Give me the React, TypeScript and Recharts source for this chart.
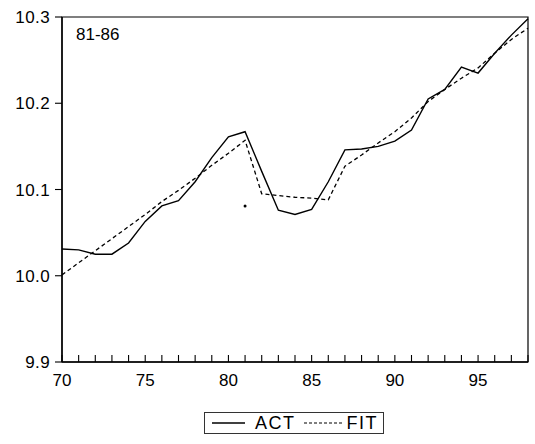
import React from 'react';
import {
  LineChart,
  Line,
  XAxis,
  YAxis,
  ReferenceArea,
  ReferenceDot,
} from 'recharts';

// years 1970-1998, shown as two-digit labels
const years = [70, 71, 72, 73, 74, 75, 76, 77, 78, 79, 80, 81, 82, 83, 84, 85, 86, 87, 88, 89, 90, 91, 92, 93, 94, 95, 96, 97, 98];

const actual = [
  10.031, 10.030, 10.025, 10.025, 10.038, 10.063, 10.081, 10.087, 10.109, 10.137,
  10.161, 10.167, 10.121, 10.076, 10.071, 10.077, 10.109, 10.146, 10.147, 10.150,
  10.156, 10.169, 10.205, 10.216, 10.242, 10.235, 10.258, 10.279, 10.298,
];

const fitted = [
  10.001, 10.015, 10.029, 10.043, 10.057, 10.071, 10.086, 10.099, 10.113, 10.128,
  10.142, 10.157, 10.095, 10.093, 10.091, 10.090, 10.088, 10.127, 10.140, 10.154,
  10.167, 10.183, 10.202, 10.216, 10.229, 10.241, 10.258, 10.274, 10.287,
];

const yTicks = [9.9, 10.0, 10.1, 10.2, 10.3];

const data = years.map((yr, i) => ({ yr, act: actual[i], fit: fitted[i] }));

const FONT = '"Liberation Sans", Arial, sans-serif';

export default function App() {
  return (
    <div style={{ position: 'absolute', left: 0, top: 0, width: 535, height: 444, background: '#fff', fontFamily: FONT }}>
      <LineChart width={535} height={444} data={data} margin={{ top: 17, right: 7, left: 0, bottom: 52 }}>
        <XAxis
          dataKey="yr"
          type="number"
          domain={[70, 98]}
          ticks={years}
          interval={0}
          tickFormatter={(v: number) => (v % 5 === 0 ? String(v) : '')}
          height={30}
          tickSize={-7}
          tickMargin={19}
          axisLine={{ stroke: '#000', strokeWidth: 1.4 }}
          tickLine={{ stroke: '#000', strokeWidth: 1.1 }}
          tick={{ fill: '#000', fontSize: 17, fontFamily: FONT }}
        />
        <YAxis
          type="number"
          domain={[9.9, 10.3]}
          ticks={yTicks}
          tickFormatter={(v: number) => v.toFixed(1)}
          width={62}
          tickSize={7}
          tickMargin={5}
          axisLine={{ stroke: '#000', strokeWidth: 1.4 }}
          tickLine={{ stroke: '#000', strokeWidth: 1.1 }}
          tick={{ fill: '#000', fontSize: 17, fontFamily: FONT, letterSpacing: 0.4 }}
        />
        <ReferenceArea x1={70} x2={98} y1={9.9} y2={10.3} fill="none" stroke="#000" strokeWidth={1.2} />
        <ReferenceDot x={81} y={10.081} r={1.5} fill="#000" stroke="none" />
        <Line type="linear" dataKey="act" stroke="#000" strokeWidth={1.4} dot={false} isAnimationActive={false} />
        <Line type="linear" dataKey="fit" stroke="#000" strokeWidth={1.3} strokeDasharray="4 3" dot={false} isAnimationActive={false} />
      </LineChart>

      <div style={{ position: 'absolute', left: 76, top: 25, fontSize: 17, color: '#000' }}>81-86</div>

      <div
        style={{
          position: 'absolute',
          left: 204,
          top: 412,
          width: 180,
          height: 22,
          border: '1px solid #333',
          display: 'flex',
          alignItems: 'center',
          fontSize: 18,
          color: '#000',
          boxSizing: 'border-box',
        }}
      >
        <svg width={33} height={4} style={{ marginLeft: 7 }}>
          <line x1={0} y1={2} x2={33} y2={2} stroke="#000" strokeWidth={1.3} />
        </svg>
        <span style={{ marginLeft: 10, letterSpacing: 1.5 }}>ACT</span>
        <svg width={40} height={4} style={{ marginLeft: 8 }}>
          <line x1={0} y1={2} x2={40} y2={2} stroke="#000" strokeWidth={1.2} strokeDasharray="3 2" />
        </svg>
        <span style={{ marginLeft: 3, letterSpacing: 1.5 }}>FIT</span>
      </div>
    </div>
  );
}
